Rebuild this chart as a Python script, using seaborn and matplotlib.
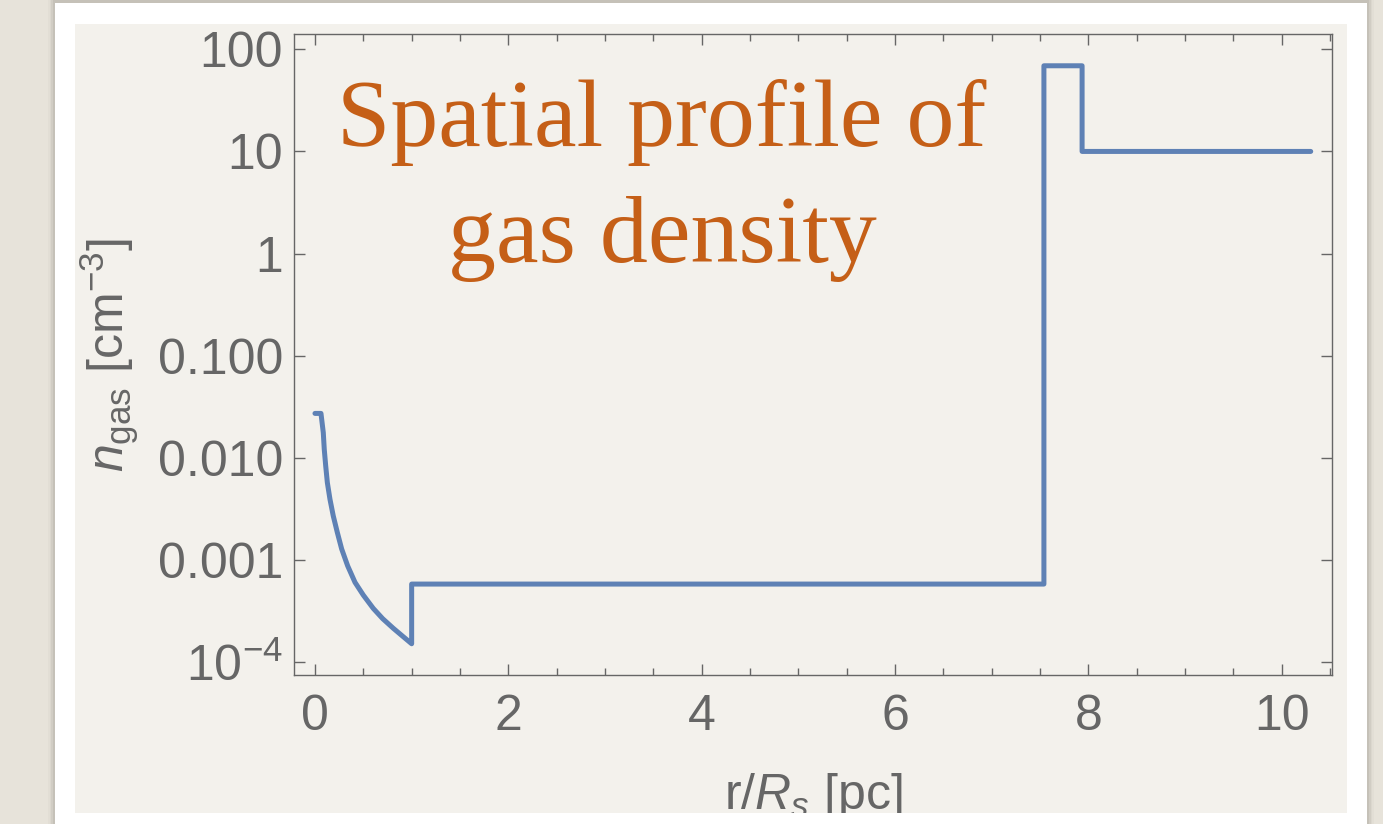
import numpy as np
import pandas as pd
import matplotlib
matplotlib.use("Agg")
import matplotlib.pyplot as plt
import matplotlib.ticker as mticker
from matplotlib.patches import Rectangle
import seaborn as sns

# ---------------- data ----------------
r_pc = [0.0, 0.062, 0.086, 0.096, 0.111, 0.128, 0.155, 0.189, 0.231, 0.276,
        0.338, 0.414, 0.500, 0.603, 0.70, 0.81, 0.91, 1.0,
        1.0, 7.54, 7.54, 7.935, 7.935, 10.3]
n_gas = [0.0272, 0.0272, 0.01762, 0.01211, 0.00832, 0.00571, 0.00393, 0.00270,
         0.00186, 0.00128, 0.000875, 0.000603, 0.000452, 0.000335, 0.000266,
         0.000214, 0.000178, 0.000151,
         0.00058, 0.00058, 69.0, 69.0, 10.0, 10.0]

x_ticks = [0, 2, 4, 6, 8, 10]
x_ticklabels = ["0", "2", "4", "6", "8", "10"]
y_ticks = [100, 10, 1, 0.1, 0.01, 0.001, 1e-4]
y_ticklabels = ["100", "10", "1", "0.100", "0.010", "0.001", r"$10^{-4}$"]

title_lines = ["Spatial profile of", "gas density"]
x_label = r"r/$R_s$ [pc]"
y_label = r"$n_{\mathrm{gas}}$ [cm$^{-3}$]"

# ---------------- style ----------------
sns.set_theme(style="ticks")
plt.rcParams["font.family"] = ["Liberation Sans", "DejaVu Sans"]
plt.rcParams["mathtext.fontset"] = "custom"
plt.rcParams["mathtext.rm"] = "Liberation Sans"
plt.rcParams["mathtext.it"] = "Liberation Sans:italic"
plt.rcParams["mathtext.bf"] = "Liberation Sans:bold"

W, H = 1383, 824
GRAY = "#666666"
LINE = "#5e81b5"
ORANGE = "#c55f17"
OUTER = "#e7e3da"
PANEL = "#f3f1ec"

fig = plt.figure(figsize=(W / 100, H / 100), dpi=100, facecolor=OUTER)


def frect(x0, y0, x1, y1, **kw):
    """rectangle given in pixel coords (top-left origin)"""
    return Rectangle((x0 / W, 1 - y1 / H), (x1 - x0) / W, (y1 - y0) / H,
                     transform=fig.transFigure, **kw)


# shadow of the white card
for i, a in enumerate([0.05, 0.08, 0.12, 0.16]):
    fig.patches.append(frect(48 + i * 1.7, 0, 1374 - i * 1.7, 824,
                             facecolor="#8a867e", alpha=a, linewidth=0, zorder=-4))
fig.patches.append(frect(55, 3, 1367, 830, facecolor="white", linewidth=0, zorder=-3))
fig.patches.append(frect(75, 24, 1347, 813, facecolor=PANEL, linewidth=0, zorder=-2))
fig.patches.append(frect(55, 813, 1367, 830, facecolor="white", linewidth=0, zorder=5))

ax = fig.add_axes([294 / W, 1 - 675 / H, (1332 - 294) / W, (675 - 34) / H])
ax.set_facecolor("none")

df = pd.DataFrame({"r": r_pc, "n": n_gas})
sns.lineplot(data=df, x="r", y="n", estimator=None, sort=False, ax=ax,
             color=LINE, linewidth=3.6)

ax.set_yscale("log")
ax.set_xlim(-0.217, 10.52)
ax.set_ylim(10 ** -4.127, 10 ** 2.15)

ax.set_xticks(x_ticks)
ax.set_xticklabels(x_ticklabels)
ax.xaxis.set_minor_locator(mticker.MultipleLocator(0.5))
ax.set_yticks(y_ticks)
ax.set_yticklabels(y_ticklabels)
ax.yaxis.set_minor_locator(mticker.LogLocator(base=10, subs=np.arange(2, 10)))
ax.yaxis.set_minor_formatter(mticker.NullFormatter())

ax.tick_params(which="both", direction="in", top=True, right=True,
               color=GRAY, width=1.0, labelcolor=GRAY, labelsize=36)
ax.tick_params(axis="y", pad=8)
ax.tick_params(axis="x", pad=14)
ax.tick_params(which="major", length=8)
ax.tick_params(which="minor", length=4.8)
for s in ax.spines.values():
    s.set_color(GRAY)
    s.set_linewidth(1.0)

ax.set_xlabel(x_label, fontsize=36, color=GRAY)
ax.xaxis.set_label_coords(0.5, -0.150)
ax.set_ylabel(y_label, fontsize=36, color=GRAY)
ax.yaxis.set_label_coords(-0.147, 0.5)

serif = ["Liberation Serif", "DejaVu Serif"]
ax.text(0.3545, 0.825, title_lines[0], transform=ax.transAxes, ha="center",
        va="baseline", fontsize=69, color=ORANGE, family=serif)
ax.text(0.3545, 0.644, title_lines[1], transform=ax.transAxes, ha="center",
        va="baseline", fontsize=69, color=ORANGE, family=serif)

fig.savefig("out.png", dpi=100, facecolor=OUTER)
